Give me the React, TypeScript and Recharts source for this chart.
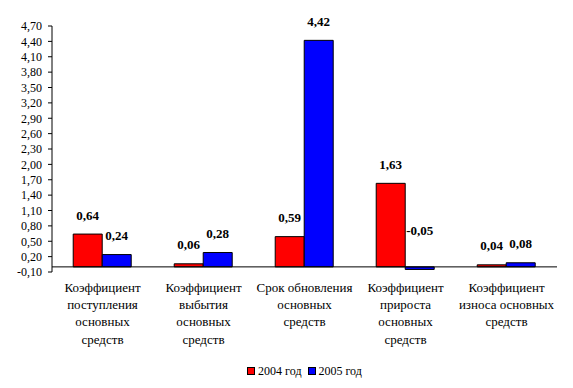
import React from 'react';
import { BarChart, Bar, XAxis, YAxis, ReferenceLine, Legend, LabelList } from 'recharts';

const categories = [
  'Коэффициент\nпоступления\nосновных\nсредств',
  'Коэффициент\nвыбытия\nосновных\nсредств',
  'Срок обновления\nосновных\nсредств',
  'Коэффициент\nприроста\nосновных\nсредств',
  'Коэффициент\nизноса основных\nсредств',
];
const values2004 = [0.64, 0.06, 0.59, 1.63, 0.04];
const values2005 = [0.24, 0.28, 4.42, -0.05, 0.08];
const yTicks = [-0.1, 0.2, 0.5, 0.8, 1.1, 1.4, 1.7, 2.0, 2.3, 2.6, 2.9, 3.2, 3.5, 3.8, 4.1, 4.4, 4.7];
const boundaryTicks = [0, 1, 2, 3, 4, 5];
const seriesNames = ['2004 год', '2005 год'];
const seriesColors = ['#FF0000', '#0000FF'];

const data = categories.map((name, i) => ({ name, y2004: values2004[i], y2005: values2005[i] }));

const FONT = 'Liberation Serif, DejaVu Serif, Times New Roman, serif';
const fmt = (v: number) => v.toFixed(2).replace('.', ',');

const CatTick = (props: any) => {
  const { x, y, payload } = props;
  const lines = String(payload.value).split('\n');
  return (
    <text textAnchor="middle" style={{ fontFamily: FONT }} fontSize={13} fill="#000">
      {lines.map((l, i) => (
        <tspan key={i} x={x} y={y + 20 + i * 17.2}>
          {l}
        </tspan>
      ))}
    </text>
  );
};

const ValueLabel = (props: any) => {
  const { x, y, width, height, value } = props;
  const top = Math.min(y, y + height);
  const lift = value < 0 ? 36 : 19;
  return (
    <text
      x={x + width / 2}
      y={top - lift}
      dy="0.35em"
      textAnchor="middle"
      style={{ fontFamily: FONT }}
      fontSize={13}
      fontWeight="bold"
      fill="#000"
    >
      {fmt(value)}
    </text>
  );
};

const LegendContent = () => (
  <div
    style={{
      display: 'flex',
      justifyContent: 'center',
      alignItems: 'center',
      height: 20,
      fontFamily: FONT,
      fontSize: 12,
      color: '#000',
    }}
  >
    {seriesNames.map((n, i) => (
      <div key={n} style={{ display: 'flex', alignItems: 'center', marginLeft: i ? 6 : 0 }}>
        <span
          style={{
            display: 'inline-block',
            width: 6,
            height: 6,
            border: '1px solid #000',
            background: seriesColors[i],
            marginRight: 3,
          }}
        />
        <span>{n}</span>
      </div>
    ))}
  </div>
);

export default function App() {
  return (
    <div style={{ position: 'absolute', left: 0, top: 0, width: 573, height: 388, background: '#fff', fontFamily: FONT }}>
      <BarChart
        width={573}
        height={388}
        data={data}
        margin={{ top: 26, right: 16, left: 0, bottom: 7 }}
        barCategoryGap="21%"
        barGap={0}
        style={{ fontFamily: FONT }}
      >
        <XAxis
          xAxisId="grid"
          type="number"
          domain={[0, 5]}
          ticks={boundaryTicks}
          mirror
          tick={false}
          axisLine={false}
          tickLine={{ stroke: '#000' }}
          tickSize={5}
          height={0}
        />
        <XAxis
          dataKey="name"
          height={89}
          axisLine={false}
          tickLine={false}
          tickSize={0}
          tickMargin={0}
          interval={0}
          tick={<CatTick />}
        />
        <YAxis
          domain={[-0.1, 4.7]}
          ticks={yTicks}
          interval={0}
          width={52}
          tickSize={4}
          tickMargin={6}
          axisLine={{ stroke: '#000' }}
          tickLine={{ stroke: '#000' }}
          tickFormatter={fmt}
          tick={{ fill: '#000', fontSize: 12, style: { fontFamily: FONT } }}
        />
        <Bar dataKey="y2004" name={seriesNames[0]} fill={seriesColors[0]} stroke="#000" strokeWidth={1} isAnimationActive={false}>
          <LabelList dataKey="y2004" content={<ValueLabel />} />
        </Bar>
        <Bar dataKey="y2005" name={seriesNames[1]} fill={seriesColors[1]} stroke="#000" strokeWidth={1} isAnimationActive={false}>
          <LabelList dataKey="y2005" content={<ValueLabel />} />
        </Bar>
        <ReferenceLine y={0} stroke="#000" strokeWidth={1} />
        <Legend
          verticalAlign="bottom"
          height={20}
          wrapperStyle={{ left: 52, width: 505 }}
          content={<LegendContent />}
        />
      </BarChart>
    </div>
  );
}
